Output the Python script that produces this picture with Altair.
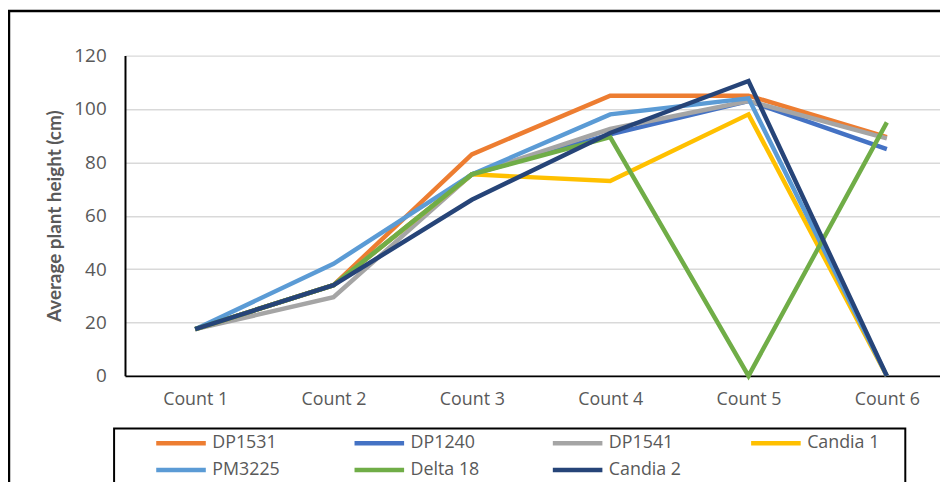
import altair as alt
import pandas as pd

counts = ["Count 1", "Count 2", "Count 3", "Count 4", "Count 5", "Count 6"]
series = ["DP1531", "DP1240", "DP1541", "Candia 1", "PM3225", "Delta 18", "Candia 2"]
colors = ["#ED7D31", "#4472C4", "#A5A5A5", "#FFC000", "#5B9BD5", "#70AD47", "#264478"]

dp1531 = [17.5, 34, 83, 105, 105, 89.5]
dp1240 = [17.5, 34, 75.5, 90.5, 103, 85]
dp1541 = [17.5, 29.5, 75.5, 92.5, 103, 89]
candia1 = [17.5, 34, 75.5, 73, 98, 0]
pm3225 = [17.5, 42, 75.5, 98, 104, 0]
delta18 = [17.5, 34, 75.5, 89.5, 0, 95]
candia2 = [17.5, 34, 66, 91, 110.5, 0]

values = [dp1531, dp1240, dp1541, candia1, pm3225, delta18, candia2]
rows = []
for i, (s, vals) in enumerate(zip(series, values)):
    for j, (c, v) in enumerate(zip(counts, vals)):
        rows.append({"Series": s, "Count": c, "Height": v, "si": i, "ci": j})
df = pd.DataFrame(rows)

gray = "#595959"

lines = alt.Chart(df).mark_line(strokeWidth=4.5, strokeJoin="miter").encode(
    x=alt.X("Count:N", sort=counts,
            scale=alt.Scale(type="point", padding=0.4457, align=0.569),
            axis=alt.Axis(title=None, labelAngle=0, labelFont="Open Sans", labelFontSize=18,
                          labelColor=gray, ticks=False, domainColor="black", domainWidth=2,
                          labelPadding=15, grid=False)),
    y=alt.Y("Height:Q", scale=alt.Scale(domain=[0, 120], nice=False),
            axis=alt.Axis(title="Average plant height (cm)", values=[0, 20, 40, 60, 80, 100, 120],
                          labelFont="Open Sans", labelFontSize=19, labelColor=gray,
                          ticks=False, domainColor="black", domainWidth=2, labelPadding=19,
                          gridColor="#D9D9D9", gridWidth=1.5,
                          titleFont="Lato", titleFontSize=19, titleFontWeight="bold",
                          titleColor=gray, titlePadding=9)),
    color=alt.Color("Series:N", scale=alt.Scale(domain=series, range=colors),
                    legend=alt.Legend(title=None, orient="none", legendX=54, legendY=376,
                                      direction="horizontal", columns=4, gridAlign="all",
                                      columnPadding=61, rowPadding=3, symbolType="M-3,0H1",
                                      symbolSize=625, symbolStrokeWidth=4.5,
                                      labelFont="Open Sans", labelFontSize=18, labelColor=gray,
                                      labelOffset=4, padding=0, labelLimit=200)),
    order="ci:Q",
    detail="si:Q",
)

outer = alt.Chart(pd.DataFrame({"a": [0]})).mark_rect(fill=None, stroke="black", strokeWidth=2.5).encode(
    x=alt.value(-117), x2=alt.value(1000), y=alt.value(-45), y2=alt.value(520)
)
legend_box = alt.Chart(pd.DataFrame({"a": [0]})).mark_rect(fill=None, stroke="black", strokeWidth=2).encode(
    x=alt.value(-11), x2=alt.value(787), y=alt.value(376), y2=alt.value(520)
)

chart = alt.layer(outer, legend_box, lines).properties(
    width=822, height=323,
    autosize=alt.AutoSizeParams(type="none"),
    padding={"left": 118, "top": 46, "right": 0, "bottom": 105},
).configure_view(stroke=None)

chart.save("out.html", embed_options={"renderer": "svg", "actions": False})
